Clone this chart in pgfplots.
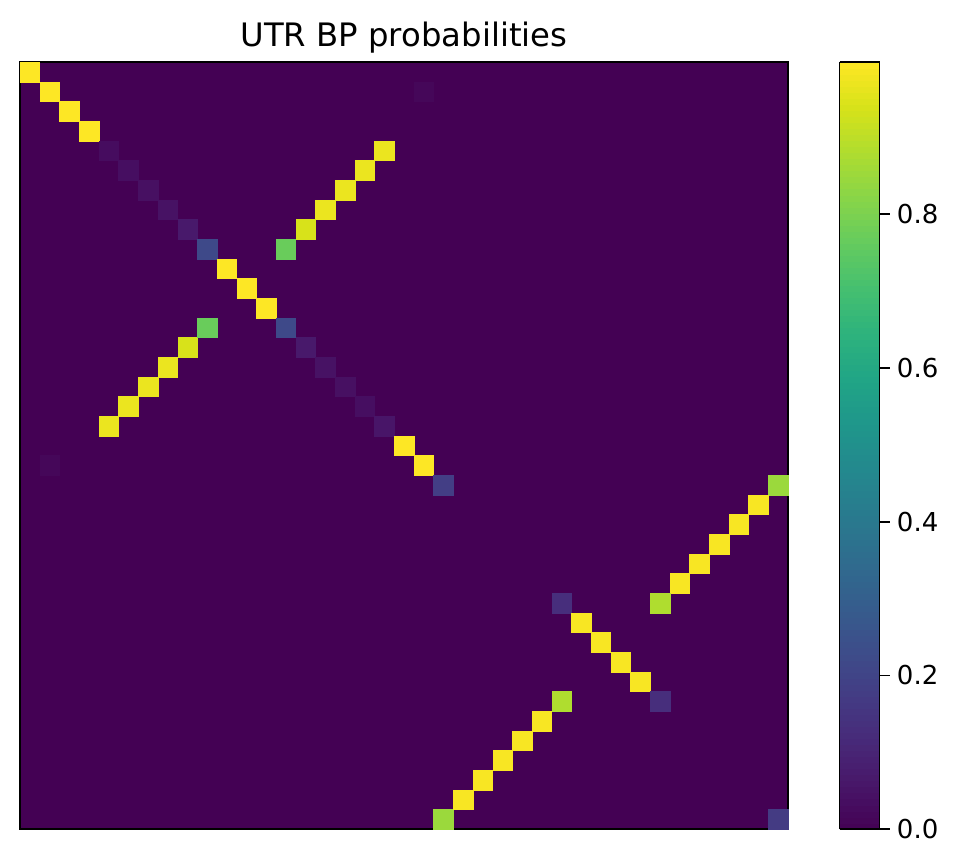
\documentclass[border=0pt]{standalone}
\usepackage{pgfplots}
\pgfplotsset{compat=1.18}
\usepackage{fontspec}
\setmainfont{DejaVu Sans}
\definecolor{vzero}{RGB}{68,1,84}

\begin{document}
\begin{tikzpicture}
\useasboundingbox (-9.6pt,-18.24pt) rectangle (451.7pt,398pt);
\begin{axis}[
    scale only axis,
    width=368.6pt, height=368.2pt,
    xmin=-0.5, xmax=38.5, ymin=-0.5, ymax=38.5,
    y dir=reverse,
    xtick=\empty, ytick=\empty,
    axis line style={line width=0.8pt},
    axis background/.style={fill=vzero},
    title={UTR BP probabilities},
    every axis title/.style={at={(0.5,1)}, anchor=base, yshift=7.7pt,
        font=\fontsize{15.5}{18}\selectfont},
    colormap/viridis,
    point meta=explicit,
    point meta min=0, point meta max=0.998,
    colorbar sampled,
    colorbar style={
        samples=128,
        width=19.2pt,
        at={(parent axis.north east)}, anchor=north west, xshift=16.3pt,
        ytick={0,0.2,0.4,0.6,0.8},
        ytick pos=right,
        yticklabel pos=right,
        yticklabel style={font=\fontsize{12.5}{15}\selectfont,
            /pgf/number format/fixed, /pgf/number format/precision=1,
            /pgf/number format/fixed zerofill,
            /pgf/number format/assume math mode=true},
        tick align=outside,
        major tick length=4.8pt,
        tick style={black, line width=0.8pt},
        axis line style={line width=0.8pt},
    },
]
\addplot[scatter, only marks, mark=square*, mark size=4.68pt,
    scatter/use mapped color={draw=mapped color, fill=mapped color},
    mark options={line width=0.1pt}]
coordinates {
(0,0) [1.0] (1,1) [1.0] (2,2) [1.0] (3,3) [1.0]
(4,4) [0.03] (5,5) [0.035] (6,6) [0.04] (7,7) [0.045] (8,8) [0.065]
(9,9) [0.22] (10,10) [1.0] (11,11) [1.0] (12,12) [1.0] (13,13) [0.22]
(14,14) [0.065] (15,15) [0.045] (16,16) [0.04] (17,17) [0.035] (18,18) [0.055]
(19,19) [1.0] (20,20) [1.0] (21,21) [0.18]
(27,27) [0.13] (28,28) [0.99] (29,29) [0.99] (30,30) [0.99] (31,31) [0.99]
(32,32) [0.13] (38,38) [0.17]
(18,4) [0.97] (17,5) [0.97] (16,6) [0.97] (15,7) [0.97] (14,8) [0.94] (13,9) [0.77]
(4,18) [0.97] (5,17) [0.97] (6,16) [0.97] (7,15) [0.97] (8,14) [0.94] (9,13) [0.77]
(20,1) [0.015] (1,20) [0.015]
(38,21) [0.85] (37,22) [0.99] (36,23) [0.99] (35,24) [0.99] (34,25) [0.99] (33,26) [0.99] (32,27) [0.88]
(21,38) [0.85] (22,37) [0.99] (23,36) [0.99] (24,35) [0.99] (25,34) [0.99] (26,33) [0.99] (27,32) [0.88]
};
\end{axis}
\end{tikzpicture}
\end{document}
